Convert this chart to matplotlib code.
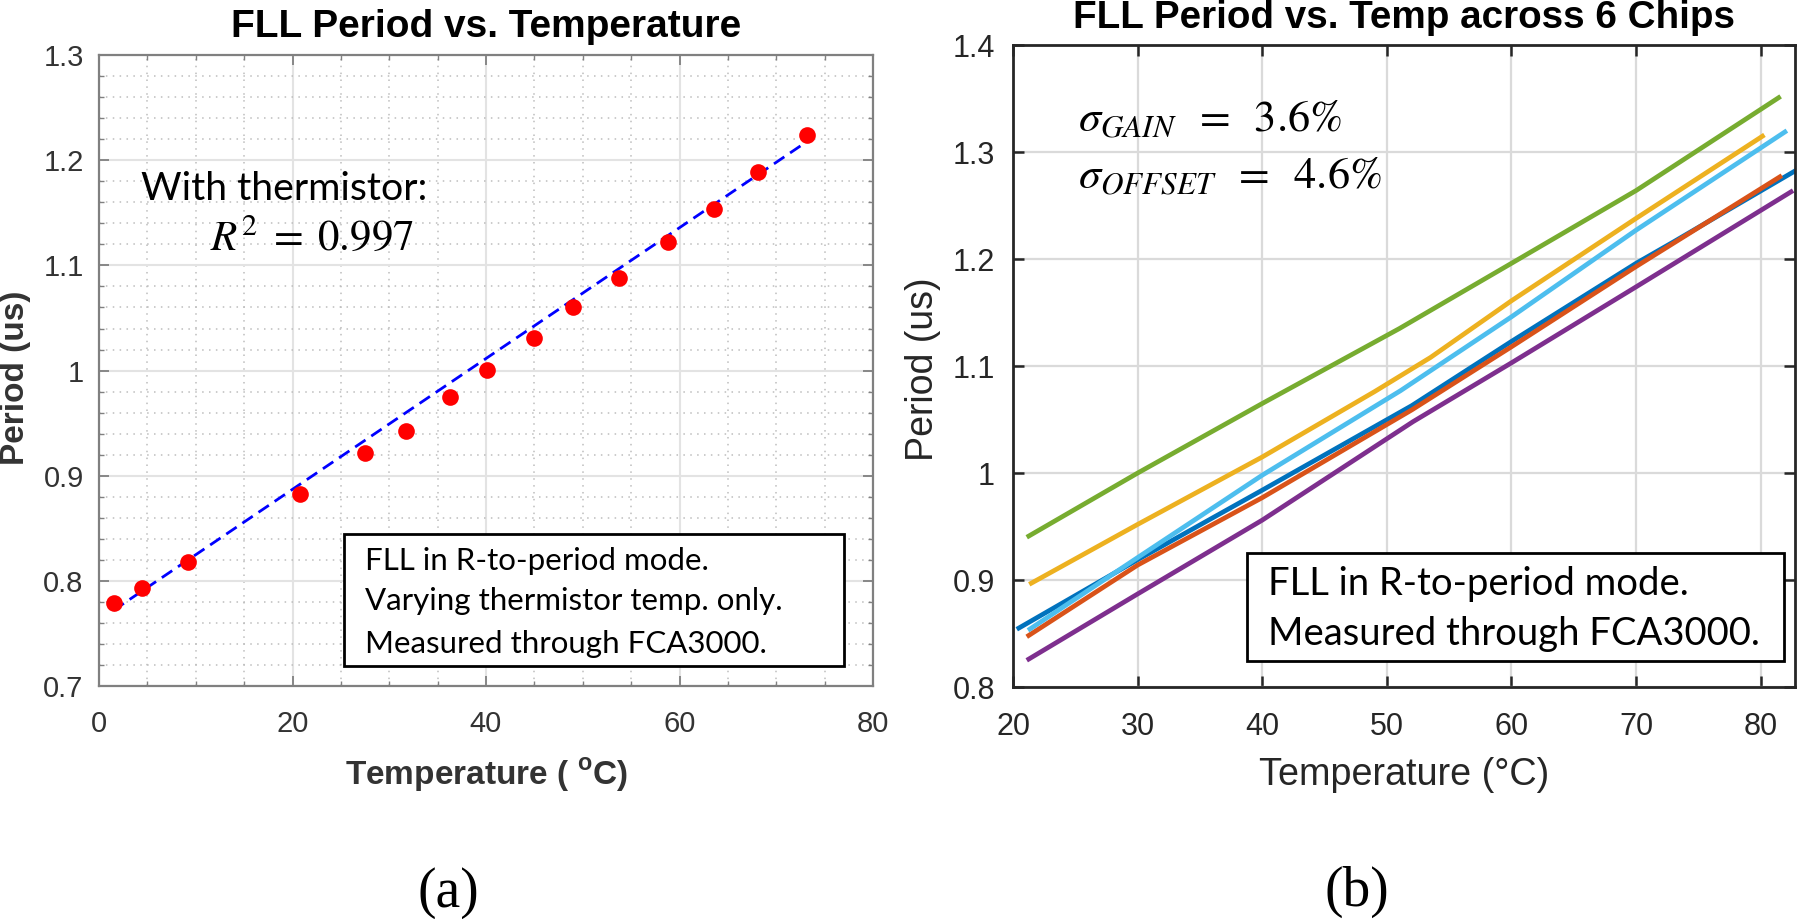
import numpy as np
import matplotlib.pyplot as plt
from matplotlib.patches import Rectangle
from matplotlib.ticker import MultipleLocator

plt.rcParams['font.family'] = ['Liberation Sans', 'DejaVu Sans']
plt.rcParams['mathtext.fontset'] = 'custom'
plt.rcParams['mathtext.rm'] = 'Liberation Sans:bold'

# (a) um chip, variando so o termistor
temp_a = [1.5, 4.4, 9.2, 20.8, 27.5, 31.7, 36.3, 40.1, 45.0, 49.0, 53.7, 58.8, 63.6, 68.1, 73.2]
period_a = [0.779, 0.793, 0.818, 0.883, 0.922, 0.943, 0.975, 1.001, 1.031, 1.060, 1.088, 1.122, 1.154, 1.189, 1.224]
fit_t = [1.5, 73.2]
fit_p = [0.772, 1.218]

# (b) 6 chips
t_blue = [20.3, 30, 40, 52, 60, 70, 73, 83]
p_blue = [0.854, 0.919, 0.984, 1.063, 1.123, 1.196, 1.216, 1.284]
t_orange = [21.1, 30, 40, 52, 60, 70, 81.7]
p_orange = [0.847, 0.914, 0.977, 1.059, 1.118, 1.193, 1.278]
t_yellow = [21.3, 30, 40, 49, 53.5, 60, 70, 80.3]
p_yellow = [0.896, 0.952, 1.015, 1.076, 1.108, 1.161, 1.238, 1.316]
t_purple = [21.1, 30, 40, 52.1, 60, 70, 82.6]
p_purple = [0.825, 0.887, 0.956, 1.048, 1.103, 1.174, 1.264]
t_green = [21.1, 30, 40, 51, 60, 70, 81.6]
p_green = [0.940, 1.000, 1.065, 1.135, 1.196, 1.264, 1.352]
t_lblue = [21.2, 30, 40, 51.1, 60, 70, 82.1]
p_lblue = [0.853, 0.921, 0.998, 1.077, 1.146, 1.227, 1.320]

cores = ['#0072BD', '#D95319', '#EDB120', '#7E2F8E', '#77AC30', '#4DBEEE']

fig = plt.figure(figsize=(18, 9.19), dpi=100)

# ---------- (a) ----------
ax1 = fig.add_axes([0.055, 0.2535, 0.43, 0.6865])
ax1.plot(fit_t, fit_p, color='blue', linestyle=(0, (4.5, 2.5)), linewidth=2, zorder=3)
ax1.plot(temp_a, period_a, 'o', color='red', markersize=12, markeredgewidth=0, zorder=4)
ax1.set_xlim(0, 80)
ax1.set_ylim(0.7, 1.3)
ax1.xaxis.set_major_locator(MultipleLocator(20))
ax1.xaxis.set_minor_locator(MultipleLocator(5))
ax1.yaxis.set_major_locator(MultipleLocator(0.1))
ax1.yaxis.set_minor_locator(MultipleLocator(0.02))
ax1.set_yticks([0.7, 0.8, 0.9, 1.0, 1.1, 1.2, 1.3], ['0.7', '0.8', '0.9', '1', '1.1', '1.2', '1.3'])
ax1.grid(True, which='major', color='#e3e3e3', linewidth=1.5)
ax1.grid(True, which='minor', color='#bdbdbd', linestyle=(0, (1, 3.5)), linewidth=1.1)
ax1.set_axisbelow(True)
ax1.tick_params(which='major', direction='in', length=7, width=1.3, top=True, right=True,
                labelsize=21, labelcolor='#333333', color='#808080')
ax1.tick_params(axis='x', which='major', pad=17)
ax1.tick_params(axis='y', which='major', pad=11)
ax1.tick_params(which='minor', direction='in', length=3.5, width=1, top=True, right=True, color='#808080')
for s in ax1.spines.values():
    s.set_color('#808080')
    s.set_linewidth(1.6)

ax1.text(0.5, 1.0285, 'FLL Period vs. Temperature', transform=ax1.transAxes,
         ha='center', va='baseline', fontsize=28, fontweight='bold')
ax1.set_xlabel(r'Temperature ( $^{\mathrm{o}}$C)', fontsize=24, fontweight='bold',
               color='#333333', va='baseline', math_fontfamily='custom')
ax1.xaxis.set_label_coords(0.5, -0.157)
ax1.set_ylabel('Period (us)', fontsize=24, fontweight='bold', color='#333333', va='center')
ax1.yaxis.set_label_coords(-0.108, 0.488)

ax1.text(0.0543, 0.770, 'With thermistor:', transform=ax1.transAxes, fontsize=28.3,
         family='Lato', va='baseline')
ax1.text(0.1434, 0.691, r'$R^2\;=\;0.997$', transform=ax1.transAxes, fontsize=31,
         va='baseline', math_fontfamily='stix')

ax1.add_patch(Rectangle((0.3165, 0.0317), 0.646, 0.2092, transform=ax1.transAxes,
                        facecolor='white', edgecolor='black', linewidth=2, zorder=5))
linhas_a = ['FLL in R-to-period mode.', 'Varying thermistor temp. only.', 'Measured through FCA3000.']
for txt, yy in zip(linhas_a, [0.1838, 0.1204, 0.0523]):
    ax1.text(0.3437, yy, txt, transform=ax1.transAxes, fontsize=22.5, family='Lato',
             va='baseline', zorder=6)

# ---------- (b) ----------
ax2 = fig.add_axes([0.5628, 0.2524, 0.4344, 0.6986])
for t, p, c in zip([t_blue, t_orange, t_yellow, t_purple, t_green, t_lblue],
                   [p_blue, p_orange, p_yellow, p_purple, p_green, p_lblue], cores):
    ax2.plot(t, p, color=c, linewidth=3.4, solid_capstyle='butt')
ax2.set_xlim(20, 82.75)
ax2.set_ylim(0.8, 1.4)
ax2.set_xticks([20, 30, 40, 50, 60, 70, 80])
ax2.set_yticks([0.8, 0.9, 1.0, 1.1, 1.2, 1.3, 1.4], ['0.8', '0.9', '1', '1.1', '1.2', '1.3', '1.4'])
ax2.grid(True, color='#dadada', linewidth=1.6)
ax2.set_axisbelow(True)
ax2.tick_params(direction='in', length=8, width=1.8, top=True, right=True,
                labelsize=22, labelcolor='#262626', color='#262626')
ax2.tick_params(axis='x', pad=18)
ax2.tick_params(axis='y', pad=13)
for s in ax2.spines.values():
    s.set_color('#262626')
    s.set_linewidth(2)

ax2.text(0.5, 1.0265, 'FLL Period vs. Temp across 6 Chips', transform=ax2.transAxes,
         ha='center', va='baseline', fontsize=27.8, fontweight='bold')
ax2.set_xlabel('Temperature (°C)', fontsize=27.2, color='#262626', va='baseline')
ax2.xaxis.set_label_coords(0.5, -0.1526)
ax2.set_ylabel('Period (us)', fontsize=27, color='#262626', va='center')
ax2.yaxis.set_label_coords(-0.115, 0.495)

ax2.text(0.083, 0.865, r'$\sigma_{GAIN}\;\;=\;\;3.6\%$', transform=ax2.transAxes, fontsize=32,
         va='baseline', math_fontfamily='stix')
ax2.text(0.083, 0.777, r'$\sigma_{OFFSET}\;\;=\;\;4.6\%$', transform=ax2.transAxes, fontsize=32,
         va='baseline', math_fontfamily='stix')

ax2.add_patch(Rectangle((0.299, 0.0405), 0.687, 0.1682, transform=ax2.transAxes,
                        facecolor='white', edgecolor='black', linewidth=2, zorder=5))
linhas_b = ['FLL in R-to-period mode.', 'Measured through FCA3000.']
for txt, yy in zip(linhas_b, [0.1433, 0.0654]):
    ax2.text(0.326, yy, txt, transform=ax2.transAxes, fontsize=27.5, family='Lato',
             va='baseline', zorder=6)

fig.text(0.249, 0.028, '(a)', ha='center', va='center', family='Liberation Serif', fontsize=40)
fig.text(0.754, 0.030, '(b)', ha='center', va='center', family='Liberation Serif', fontsize=40)

fig.savefig('out.png', dpi=100)
